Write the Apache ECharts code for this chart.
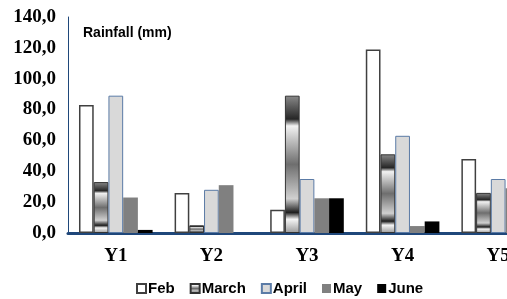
<!DOCTYPE html>
<html>
<head>
<meta charset="utf-8">
<script src="https://cdn.jsdelivr.net/npm/echarts@6/dist/echarts.min.js"></script>
<style>
  html, body { margin: 0; padding: 0; background: #fff; overflow: hidden; }
  /* 图表比窗口宽，Y5 被裁掉一部分 */
  #chart { width: 546px; height: 299px; }
</style>
</head>
<body>
<div id="chart"></div>
<script>
// 数据
var years = ['Y1', 'Y2', 'Y3', 'Y4', 'Y5'];
var febData = [83, 26, 15, 119, 48];
var marchData = [33, 5, 89, 51, 26];
var aprilData = [89, 28, 35, 63, 35];
var mayData = [23, 31, 22.5, 4.5, 29];
var juneData = [2, 0, 22.5, 7.5, 0];

// 三月柱子的金属渐变
var metal = new echarts.graphic.LinearGradient(0, 0, 0, 1, [
    { offset: 0, color: '#8a8a8a' },
    { offset: 0.17, color: '#262626' },
    { offset: 0.22, color: '#f2f2f2' },
    { offset: 0.5, color: '#6e6e6e' },
    { offset: 0.75, color: '#d0d0d0' },
    { offset: 0.85, color: '#1e1e1e' },
    { offset: 0.9, color: '#f5f5f5' },
    { offset: 1, color: '#9a9a9a' }
]);

var chart = echarts.init(document.getElementById('chart'));
var option = {
    animation: false,
    title: {
        text: 'Rainfall (mm)',
        left: 78,
        top: 21,
        textStyle: {
            fontFamily: 'Liberation Sans',
            fontWeight: 'bold',
            fontSize: 14,
            color: '#000'
        }
    },
    legend: {
        top: 276,
        left: 131,
        itemWidth: 9,
        itemHeight: 9,
        itemGap: 15,
        icon: 'rect',
        textStyle: {
            fontFamily: 'Liberation Sans',
            fontWeight: 'bold',
            fontSize: 15,
            color: '#000',
            padding: [0, 0, 0, -3]
        },
        data: ['Feb', 'March', 'April', 'May', 'June']
    },
    grid: {
        left: 68,
        right: 0,
        top: 17,
        bottom: 66
    },
    xAxis: {
        type: 'category',
        data: years,
        axisTick: { show: false },
        axisLine: { lineStyle: { color: '#1f477a', width: 3 } },
        axisLabel: {
            margin: 14,
            fontFamily: 'Liberation Serif',
            fontWeight: 'bold',
            fontSize: 19,
            color: '#000'
        }
    },
    yAxis: {
        type: 'value',
        min: 0,
        max: 140,
        interval: 20,
        splitLine: { show: false },
        axisTick: { show: false },
        axisLine: { show: true, lineStyle: { color: '#1f477a', width: 1 } },
        axisLabel: {
            margin: 12,
            fontFamily: 'Liberation Serif',
            fontWeight: 'bold',
            fontSize: 19,
            color: '#000',
            formatter: function (v) { return v.toFixed(1).replace('.', ','); }
        }
    },
    series: [
        {
            name: 'Feb', type: 'bar', data: febData,
            barGap: '0%', barCategoryGap: '23%',
            itemStyle: { color: '#fff', borderColor: '#404040', borderWidth: 1.5 }
        },
        {
            name: 'March', type: 'bar', data: marchData,
            itemStyle: { color: metal, borderColor: '#333', borderWidth: 1 }
        },
        {
            name: 'April', type: 'bar', data: aprilData,
            itemStyle: { color: '#d9d9d9', borderColor: '#5b7ba6', borderWidth: 1 }
        },
        {
            name: 'May', type: 'bar', data: mayData,
            itemStyle: { color: '#808080' }
        },
        {
            name: 'June', type: 'bar', data: juneData,
            itemStyle: { color: '#000' }
        }
    ]
};
chart.setOption(option);
</script>
</body>
</html>
